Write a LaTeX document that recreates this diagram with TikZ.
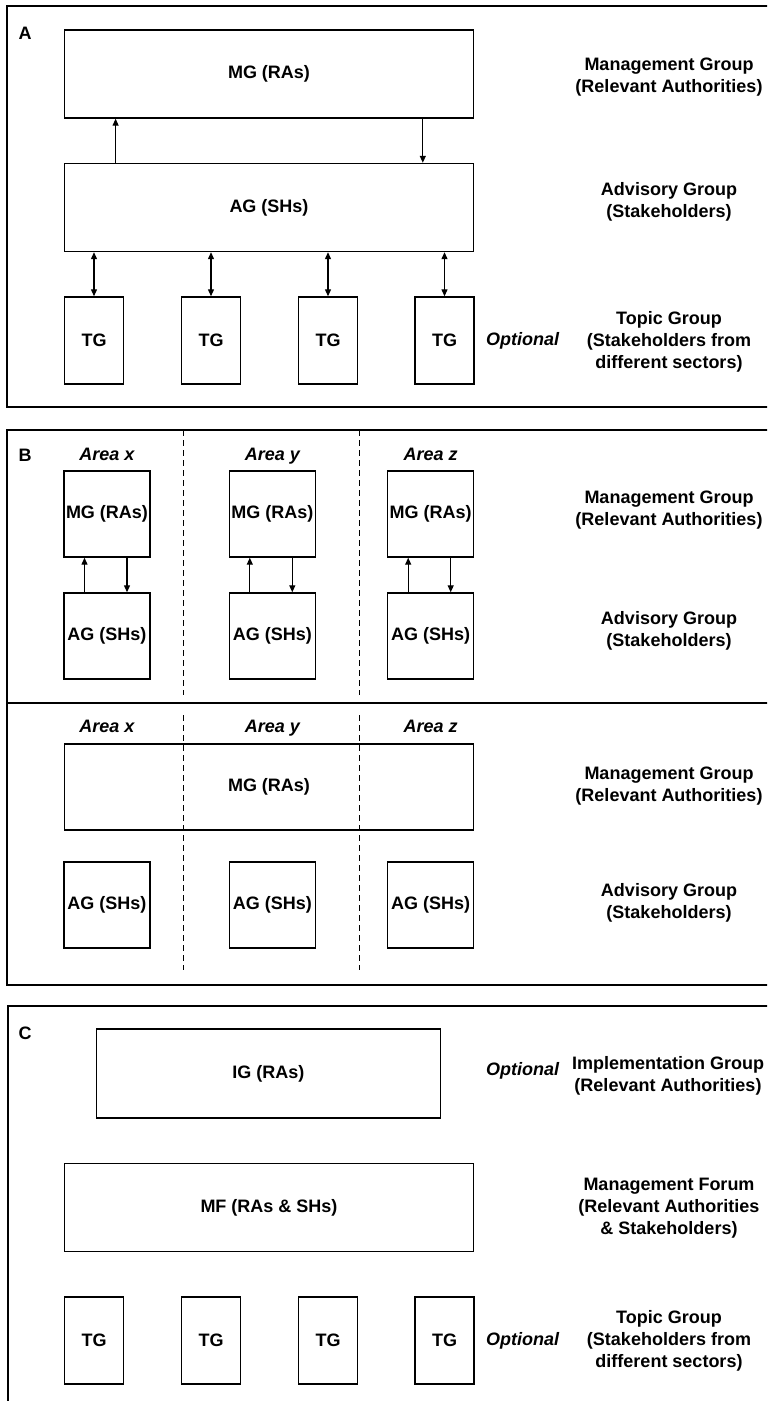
\documentclass[tikz,border=0pt]{standalone}
\usepackage{fontspec}
\setmainfont{Liberation Sans}
\usetikzlibrary{arrows.meta,positioning}

\begin{document}
\begin{tikzpicture}[
  x=0.5pt,y=-0.5pt,
  font=\bfseries\fontsize{9}{11}\selectfont,
  frame/.style={draw=black,line width=0.8pt},
  grp/.style={draw=black,line width=0.7pt,inner sep=0pt},
  widebox/.style={grp,minimum width=204.5pt,minimum height=44pt},
  tgbox/.style={grp,minimum width=29.5pt,minimum height=43.5pt},
  areabox/.style={grp,minimum width=43pt,minimum height=43pt},
  sidelbl/.style={align=center},
  optlbl/.style={font=\bfseries\itshape\fontsize{9}{11}\selectfont,
                 text height=0.72em,text depth=0.22em},
  flow/.style={-{Triangle[length=3.5pt,width=3pt]},line width=0.6pt},
  twoway/.style={{Triangle[length=3.5pt,width=3pt]}-{Triangle[length=3.5pt,width=3pt]},line width=0.6pt},
  divider/.style={line width=0.5pt,dash pattern=on 3pt off 2pt},
]
\clip (0,0) rectangle (767,1401);

% Panel A: single management group
\draw[frame] (7,6) rectangle (800,407);
\node (labA) at (25,33) {A};
\node[widebox] (mgA) at (269,74) {MG (RAs)};
\node[widebox] (agA) at (269,207.5) {AG (SHs)};
\draw[flow] ([xshift=25.9pt]agA.north west) -- ([xshift=25.9pt]mgA.south west);
\draw[flow] ([xshift=179.5pt]mgA.south west) -- ([xshift=179.5pt]agA.north west);
\foreach \i/\x in {1/94,2/211,3/328,4/444.5} {
  \node[tgbox] (tgA\i) at (\x,340.5) {TG};
  \draw[twoway] (tgA\i.north) -- (tgA\i.north |- agA.south);
}
\node[optlbl] (optA) at (522.5,340) {Optional};
\node[sidelbl] (sideA1) at (669,77) {Management Group\\(Relevant Authorities)};
\node[sidelbl] (sideA2) at (669,202) {Advisory Group\\(Stakeholders)};
\node[sidelbl] (sideA3) at (669,342) {Topic Group\\(Stakeholders from\\different sectors)};

% Panel B: one group per area, then one shared MG
\draw[frame] (7,430) rectangle (800,985);
\draw[frame] (7,703) -- (800,703);
\node (labB) at (25,455) {B};
\foreach \x in {183.5,359.6} {
  \draw[divider] (\x,430) -- (\x,695);
  \draw[divider] (\x,715) -- (\x,970);
}
\foreach \c/\x/\a in {1/107/x,2/272.3/y,3/430.7/z} {
  \node[optlbl] (areaB\c) at (\x,455) {Area \a};
  \node[areabox] (mgB\c) at (\x,514) {MG (RAs)};
  \node[areabox] (agB\c) at (\x,636) {AG (SHs)};
  \draw[flow] ([xshift=-11.25pt]agB\c.north) -- ([xshift=-11.25pt]mgB\c.south);
  \draw[flow] ([xshift=10pt]mgB\c.south) -- ([xshift=10pt]agB\c.north);
  \node[optlbl] (areaBB\c) at (\x,727) {Area \a};
  \node[areabox] (agBB\c) at (\x,905) {AG (SHs)};
}
\node[widebox,minimum height=43pt] (mgBB) at (269,787) {MG (RAs)};
\node[sidelbl] (sideB1) at (669,510) {Management Group\\(Relevant Authorities)};
\node[sidelbl] (sideB2) at (669,631) {Advisory Group\\(Stakeholders)};
\node[sidelbl] (sideB3) at (669,786) {Management Group\\(Relevant Authorities)};
\node[sidelbl] (sideB4) at (669,903) {Advisory Group\\(Stakeholders)};

% Panel C: management forum
\draw[frame] (8,1006) rectangle (800,1450);
\node (labC) at (25,1033) {C};
\node[grp,minimum width=172pt,minimum height=44.5pt] (igC) at (268.4,1073.5) {IG (RAs)};
\node[optlbl] (optC1) at (522.5,1070) {Optional};
\node[sidelbl] (sideC1) at (668,1076) {Implementation Group\\(Relevant Authorities)};
\node[widebox] (mfC) at (269,1207.5) {MF (RAs \& SHs)};
\node[sidelbl] (sideC2) at (669,1208) {Management Forum\\(Relevant Authorities\\\& Stakeholders)};
\foreach \i/\x in {1/94,2/211,3/328,4/444.5} {
  \node[tgbox] (tgC\i) at (\x,1340.5) {TG};
}
\node[optlbl] (optC2) at (522.5,1340) {Optional};
\node[sidelbl] (sideC3) at (669,1341) {Topic Group\\(Stakeholders from\\different sectors)};

\end{tikzpicture}
\end{document}
